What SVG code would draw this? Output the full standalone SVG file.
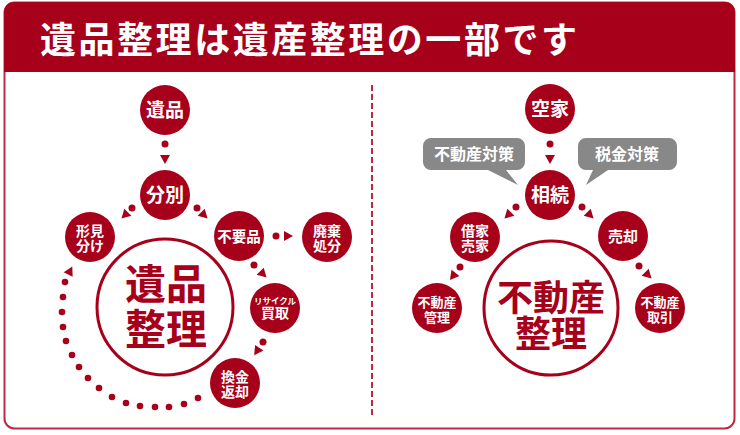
<svg xmlns="http://www.w3.org/2000/svg" xmlns:xlink="http://www.w3.org/1999/xlink" width="740" height="435" viewBox="0 0 740 435">
<style>
.node{fill:#A6001A}
.nt{fill:#fff;font-family:"Noto Sans CJK JP","Noto Sans",sans-serif;font-weight:bold;text-anchor:middle}
.big{fill:#fff;stroke:#A6001A;stroke-width:3}
.bt{fill:#A6001A;font-family:"Noto Sans CJK JP","Noto Sans",sans-serif;font-weight:bold;text-anchor:middle}
.dot{fill:#A6001A}
.bub{fill:#888888}
.bubt{fill:#fff;font-family:"Noto Sans CJK JP","Noto Sans",sans-serif;font-weight:bold;font-size:16px;text-anchor:middle}
</style>
<defs>
<path id="tri" d="M5,0 L-4,-5 L-4,5 Z" fill="#A6001A"/>
</defs>
<rect x="4.5" y="2.5" width="730" height="426" rx="10" fill="#fff" stroke="#C0283F" stroke-width="2"/>
<path d="M4,72 V12 A10,10 0 0 1 14,2 H725 A10,10 0 0 1 735,12 V72 Z" fill="#A6001A"/>
<text x="40" y="52.5" font-family="'Noto Sans CJK JP','Noto Sans',sans-serif" font-weight="bold" font-size="36" fill="#fff" textLength="537" lengthAdjust="spacing">遺品整理は遺産整理の一部です</text>
<line x1="372" y1="85" x2="372" y2="415" stroke="#C0283F" stroke-width="2" stroke-dasharray="6 3"/>

<g id="connectors">
<circle class="dot" cx="165" cy="144" r="3.5"/><use href="#tri" transform="translate(165,159) rotate(90)"/>
<circle class="dot" cx="132" cy="208" r="3.5"/><use href="#tri" transform="translate(125,215) rotate(135)"/>
<circle class="dot" cx="197" cy="208" r="3.5"/><use href="#tri" transform="translate(204,215) rotate(45)"/>
<circle class="dot" cx="276" cy="236" r="3.5"/><use href="#tri" transform="translate(288,236)"/>
<circle class="dot" cx="254" cy="265" r="3.5"/><use href="#tri" transform="translate(263,274) rotate(45)"/>
<circle class="dot" cx="263" cy="342" r="3.5"/><use href="#tri" transform="translate(257,351) rotate(124)"/>
<circle class="dot" cx="198" cy="398" r="3.3"/>
<circle class="dot" cx="184" cy="404" r="3.3"/>
<circle class="dot" cx="169" cy="407" r="3.3"/>
<circle class="dot" cx="155" cy="407" r="3.3"/>
<circle class="dot" cx="140" cy="406" r="3.3"/>
<circle class="dot" cx="126" cy="403" r="3.3"/>
<circle class="dot" cx="112" cy="397" r="3.3"/>
<circle class="dot" cx="99" cy="388" r="3.3"/>
<circle class="dot" cx="88" cy="378" r="3.3"/>
<circle class="dot" cx="79" cy="367" r="3.3"/>
<circle class="dot" cx="72" cy="355" r="3.3"/>
<circle class="dot" cx="66" cy="341" r="3.3"/>
<circle class="dot" cx="63" cy="327" r="3.3"/>
<circle class="dot" cx="62" cy="312" r="3.3"/>
<circle class="dot" cx="63" cy="297" r="3.3"/>
<circle class="dot" cx="65" cy="282" r="3.3"/>
<use href="#tri" transform="translate(70,271) rotate(-63)"/>
<circle class="dot" cx="550" cy="144" r="3.5"/><use href="#tri" transform="translate(550,159) rotate(90)"/>
<circle class="dot" cx="516" cy="207" r="3.5"/><use href="#tri" transform="translate(508,215) rotate(135)"/>
<circle class="dot" cx="582" cy="207" r="3.5"/><use href="#tri" transform="translate(590,215) rotate(45)"/>
<circle class="dot" cx="460" cy="267" r="3.5"/><use href="#tri" transform="translate(453,276) rotate(128)"/>
<circle class="dot" cx="639" cy="266" r="3.5"/><use href="#tri" transform="translate(648,275) rotate(45)"/>
</g>

<g id="n-ihin"><circle class="node" cx="165" cy="110" r="25"/><text class="nt" x="165" y="117" font-size="19">遺品</text></g>
<g id="n-bunbetsu"><circle class="node" cx="165" cy="195" r="25"/><text class="nt" x="165" y="202" font-size="19">分別</text></g>
<g id="n-katami"><circle class="node" cx="90" cy="237" r="25"/><text class="nt" font-size="14"><tspan x="90" y="236">形見</tspan><tspan x="90" y="251">分け</tspan></text></g>
<g id="n-fuyo"><circle class="node" cx="239" cy="236" r="25"/><text class="nt" x="239" y="241.5" font-size="14.5">不要品</text></g>
<g id="n-haiki"><circle class="node" cx="327" cy="237" r="25"/><text class="nt" font-size="14"><tspan x="327" y="236">廃棄</tspan><tspan x="327" y="251">処分</tspan></text></g>
<g id="n-kaitori"><circle class="node" cx="275" cy="308" r="25"/><text class="nt"><tspan x="275" y="304" font-size="8.5">リサイクル</tspan><tspan x="275" y="318" font-size="14">買取</tspan></text></g>
<g id="n-kankin"><circle class="node" cx="235" cy="383" r="25"/><text class="nt" font-size="14"><tspan x="235" y="382">換金</tspan><tspan x="235" y="397">返却</tspan></text></g>
<g id="n-ihinseiri"><circle class="big" cx="165" cy="307" r="68"/><text class="bt" font-size="41"><tspan x="166" y="299">遺品</tspan><tspan x="166" y="344">整理</tspan></text></g>

<g id="b-fudosan"><path class="bub" d="M431,138 H517 A8,8 0 0 1 525,146 V162 A8,8 0 0 1 517,170 H506 L518,185 L488,170 H431 A8,8 0 0 1 423,162 V146 A8,8 0 0 1 431,138 Z"/><text class="bubt" x="474" y="160">不動産対策</text></g>
<g id="b-zeikin"><path class="bub" d="M586,138 H669 A8,8 0 0 1 677,146 V162 A8,8 0 0 1 669,170 H608 L586,185 L593,170 H586 A8,8 0 0 1 578,162 V146 A8,8 0 0 1 586,138 Z"/><text class="bubt" x="627" y="160">税金対策</text></g>

<g id="n-akiya"><circle class="node" cx="550" cy="109" r="25"/><text class="nt" x="550" y="116" font-size="19">空家</text></g>
<g id="n-sozoku"><circle class="node" cx="550" cy="195" r="25"/><text class="nt" x="550" y="202" font-size="19">相続</text></g>
<g id="n-shakuya"><circle class="node" cx="475" cy="237" r="25"/><text class="nt" font-size="14"><tspan x="475" y="236">借家</tspan><tspan x="475" y="251">売家</tspan></text></g>
<g id="n-baikyaku"><circle class="node" cx="623" cy="236" r="25"/><text class="nt" x="623" y="241.5" font-size="15">売却</text></g>
<g id="n-kanri"><circle class="node" cx="437" cy="308" r="25"/><text class="nt" font-size="13"><tspan x="437" y="307">不動産</tspan><tspan x="437" y="322">管理</tspan></text></g>
<g id="n-torihiki"><circle class="node" cx="660" cy="308" r="25"/><text class="nt" font-size="13"><tspan x="660" y="307">不動産</tspan><tspan x="660" y="322">取引</tspan></text></g>
<g id="n-fudosanseiri"><circle class="big" cx="551" cy="308" r="67"/><text class="bt" font-size="36"><tspan x="551" y="311">不動産</tspan><tspan x="551" y="347">整理</tspan></text></g>
</svg>
